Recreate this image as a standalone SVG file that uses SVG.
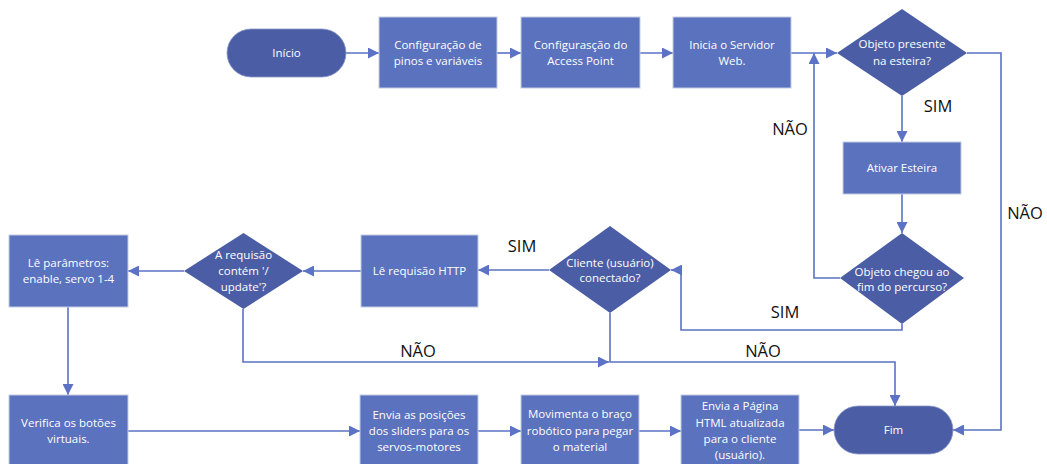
<svg xmlns="http://www.w3.org/2000/svg" width="1047" height="464" viewBox="0 0 1047 464">
<style>
.proc{fill:#5B72BE;stroke:#C4CBE2;stroke-width:1}
.dec{fill:#4B5EA5;stroke:none}
.term{fill:#4B5EA5;stroke:#8A97C8;stroke-width:0.8}
.t{font-family:"Open Sans","Noto Sans",sans-serif;font-size:11.5px;fill:#FFFFFF;text-anchor:middle}
.lbl{font-family:"Open Sans","Noto Sans",sans-serif;font-size:16.5px;fill:#111111;text-anchor:middle}
.c{fill:none;stroke:#5B72C5;stroke-width:1.6;marker-end:url(#ah)}
</style>
<defs>
<marker id="ah" markerUnits="userSpaceOnUse" markerWidth="11" markerHeight="11" refX="11" refY="5.5" orient="auto">
<path d="M0,0 L11,5.5 L0,11 z" fill="#5B72C5"/>
</marker>
</defs>
<rect width="1047" height="464" fill="#FFFFFF"/>

<g id="connectors">
<path class="c" d="M346,53 L379,53"/>
<path class="c" d="M497,53 L521,53"/>
<path class="c" d="M640,53 L673,53"/>
<path class="c" d="M791,53 L837,53"/>
<path class="c" d="M967,53 L1001,53 L1001,430 L953,430"/>
<path class="c" d="M902,96 L902,142"/>
<path class="c" d="M902,194 L902,233"/>
<path class="c" d="M840,278 L814,278 L814,53"/>
<path class="c" d="M902,324 L902,330 L681,330 L681,270 L671,270"/>
<path class="c" d="M549,270 L478,270"/>
<path class="c" d="M361,271 L303,271"/>
<path class="c" d="M184,271 L128,271"/>
<path class="c" d="M68,307 L68,395"/>
<path class="c" d="M243,309 L243,362 L609,362"/>
<path class="c" d="M610,313 L610,362 L895,362 L895,406"/>
<path class="c" d="M128,431 L360,431"/>
<path class="c" d="M478,431 L521,431"/>
<path class="c" d="M639,431 L681,431"/>
<path class="c" d="M799,430 L834,430"/>
</g>

<g id="labels">
<text class="lbl" x="938" y="112">SIM</text>
<text class="lbl" x="790" y="135">NÃO</text>
<text class="lbl" x="1025" y="219">NÃO</text>
<text class="lbl" x="785" y="318">SIM</text>
<text class="lbl" x="522" y="252">SIM</text>
<text class="lbl" x="418" y="357">NÃO</text>
<text class="lbl" x="763" y="357">NÃO</text>
</g>

<g id="inicio">
<rect class="term" x="227" y="29" width="119" height="48" rx="24" ry="24"/>
<text class="t" x="286.5" y="57">Início</text>
</g>
<g id="config-pinos">
<rect class="proc" x="379" y="17" width="118" height="71"/>
<text class="t" x="438" y="48.5">Configuração de</text>
<text class="t" x="438" y="64.5">pinos e variáveis</text>
</g>
<g id="config-ap">
<rect class="proc" x="521" y="17" width="119" height="71"/>
<text class="t" x="580.5" y="48.5">Configurasção do</text>
<text class="t" x="580.5" y="64.5">Access Point</text>
</g>
<g id="inicia-servidor">
<rect class="proc" x="673" y="17" width="118" height="71"/>
<text class="t" x="732" y="48.5">Inicia o Servidor</text>
<text class="t" x="732" y="64.5">Web.</text>
</g>
<g id="objeto-presente">
<polygon class="dec" points="902,9 967,53 902,96 837,53"/>
<text class="t" x="902" y="48">Objeto presente</text>
<text class="t" x="902" y="65">na esteira?</text>
</g>
<g id="ativar-esteira">
<rect class="proc" x="843" y="142" width="118" height="52"/>
<text class="t" x="902" y="172">Ativar Esteira</text>
</g>
<g id="objeto-chegou">
<polygon class="dec" points="902,233 964,278 902,324 840,278"/>
<text class="t" x="902" y="276">Objeto chegou ao</text>
<text class="t" x="902" y="291">fim do percurso?</text>
</g>
<g id="cliente-conectado">
<polygon class="dec" points="610,226 671,270 610,313 549,270"/>
<text class="t" x="610" y="267">Cliente (usuário)</text>
<text class="t" x="610" y="282">conectado?</text>
</g>
<g id="le-requisicao">
<rect class="proc" x="361" y="235" width="117" height="72"/>
<text class="t" x="419.5" y="275">Lê requisão HTTP</text>
</g>
<g id="requisicao-update">
<polygon class="dec" points="243.5,233 303,271 243.5,309 184,271"/>
<text class="t" x="243.5" y="259">A requisão</text>
<text class="t" x="243.5" y="275">contém '/</text>
<text class="t" x="243.5" y="291">update'?</text>
</g>
<g id="le-parametros">
<rect class="proc" x="9" y="235" width="119" height="72"/>
<text class="t" x="68.5" y="267">Lê parâmetros:</text>
<text class="t" x="68.5" y="283">enable, servo 1-4</text>
</g>
<g id="verifica-botoes">
<rect class="proc" x="9" y="395" width="119" height="73"/>
<text class="t" x="68.5" y="427">Verifica os botões</text>
<text class="t" x="68.5" y="443">virtuais.</text>
</g>
<g id="envia-posicoes">
<rect class="proc" x="360" y="395" width="118" height="73"/>
<text class="t" x="419" y="419">Envia as posições</text>
<text class="t" x="419" y="435">dos sliders para os</text>
<text class="t" x="419" y="451">servos-motores</text>
</g>
<g id="movimenta-braco">
<rect class="proc" x="521" y="395" width="118" height="73"/>
<text class="t" x="580" y="418">Movimenta o braço</text>
<text class="t" x="580" y="435">robótico para pegar</text>
<text class="t" x="580" y="451">o material</text>
</g>
<g id="envia-pagina">
<rect class="proc" x="681" y="395" width="118" height="73"/>
<text class="t" x="740" y="410">Envia a Página</text>
<text class="t" x="740" y="427">HTML atualizada</text>
<text class="t" x="740" y="443">para o cliente</text>
<text class="t" x="740" y="459">(usuário).</text>
</g>
<g id="fim">
<rect class="term" x="834" y="406" width="119" height="48" rx="24" ry="24"/>
<text class="t" x="893.5" y="434">Fim</text>
</g>
</svg>
